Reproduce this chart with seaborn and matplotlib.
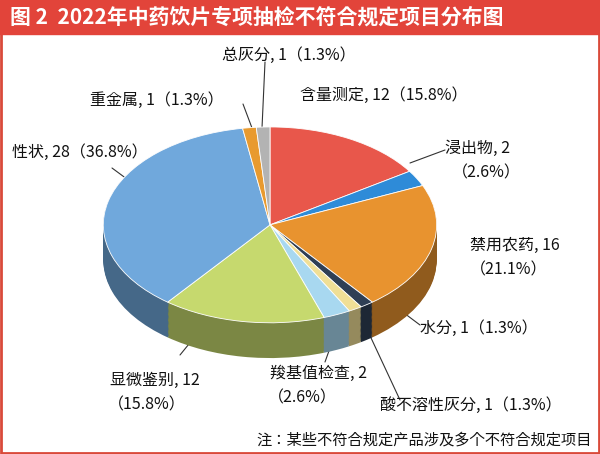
import matplotlib
matplotlib.use("Agg")
import matplotlib.pyplot as plt
import seaborn as sns
import numpy as np
import matplotlib.colors as mc
from matplotlib import font_manager as fm

sns.set_style("white")
names = {f.name for f in fm.fontManager.ttflist}
cjk = [n for n in ["Noto Sans CJK SC", "Noto Sans CJK JP", "Noto Sans CJK TC", "Noto Sans CJK KR",
                   "Noto Sans SC", "Noto Sans CJK"] if n in names]
cjk += [n for n in names if "CJK" in n]
plt.rcParams["font.family"] = (cjk[:1] or ["DejaVu Sans"]) + ["DejaVu Sans"]

categories = ["含量测定", "浸出物", "禁用农药", "水分", "酸不溶性灰分", "羧基值检查", "显微鉴别", "性状", "重金属", "总灰分"]
values = [12, 2, 16, 1, 1, 2, 12, 28, 1, 1]
pct_labels = ["15.8%", "2.6%", "21.1%", "1.3%", "1.3%", "2.6%", "15.8%", "36.8%", "1.3%", "1.3%"]
colors = ["#E8574B", "#2E8BD8", "#E8932F", "#2F3F55", "#F0DF96", "#A8D8F0",
          "#C6D96E", "#70A8DC", "#E89A2F", "#B3B3B3"]

W, H = 600, 454
fig = plt.figure(figsize=(6, 4.54), dpi=100)
fig.patch.set_facecolor("white")

bg = fig.add_axes([0, 0, 1, 1]); bg.set_axis_off()
bg.set_xlim(0, W); bg.set_ylim(H, 0)
bg.add_patch(plt.Rectangle((1, 1), W - 2, H - 2, fill=False, ec="#D94A3A", lw=2))
bg.add_patch(plt.Rectangle((0, 0), W, 34, color="#E2443A"))
bg.text(10, 17, "图 2  2022年中药饮片专项抽检不符合规定项目分布图", color="white",
        fontsize=15, fontweight="bold", va="center", ha="left")

ax = fig.add_axes([100 / W, 1 - 360 / H, 340 / W, 235 / H])
d = 0.36
dark = [mc.to_hex(np.array(mc.to_rgb(c)) * 0.62) for c in colors]
for k in np.linspace(d, 0.005, 30):
    ax.pie(values, colors=dark, startangle=90, counterclock=False, center=(0, -k),
           wedgeprops=dict(linewidth=0))
ax.pie(values, colors=colors, startangle=90, counterclock=False, center=(0, 0),
       wedgeprops=dict(linewidth=0.6, edgecolor="white"))
ax.set_aspect("auto")
ax.set_xlim(-1.02, 1.02); ax.set_ylim(-1 - d - 0.02, 1.02)

lbl = {
    "总灰分": [(222, 55, "总灰分, 1（1.3%）")],
    "重金属": [(90, 100, "重金属, 1（1.3%）")],
    "含量测定": [(300, 95, "含量测定, 12（15.8%）")],
    "浸出物": [(445, 148, "浸出物, 2"), (452, 173, "（2.6%）")],
    "性状": [(12, 152, "性状, 28（36.8%）")],
    "禁用农药": [(470, 245, "禁用农药, 16"), (470, 270, "（21.1%）")],
    "水分": [(420, 328, "水分, 1（1.3%）")],
    "显微鉴别": [(110, 380, "显微鉴别, 12"), (108, 405, "（15.8%）")],
    "羧基值检查": [(270, 373, "羧基值检查, 2"), (268, 398, "（2.6%）")],
    "酸不溶性灰分": [(380, 405, "酸不溶性灰分, 1（1.3%）")],
}
for c in categories:
    for (x, y, t) in lbl[c]:
        bg.text(x, y, t, fontsize=11.5, va="center", ha="left", color="#111111")

lines = [((265, 62), (262, 128)), ((243, 104), (252, 128)), ((410, 163), (445, 150)),
         ((112, 168), (135, 185)), ((380, 295), (420, 325)), ((358, 310), (400, 400)),
         ((340, 320), (325, 362)), ((215, 312), (180, 355))]
for (a, b) in lines:
    bg.plot([a[0], b[0]], [a[1], b[1]], color="#333333", lw=0.8)

bg.text(592, 440, "注：某些不符合规定产品涉及多个不符合规定项目", fontsize=11, ha="right",
        va="center", color="#111111")
fig.savefig("out.png", dpi=100)
